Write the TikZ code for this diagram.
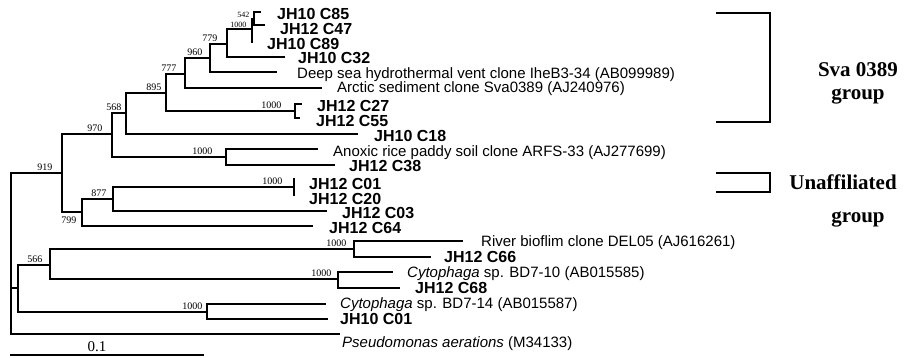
\documentclass[tikz,border=0pt]{standalone}
\usepackage{fontspec}
\setmainfont{Liberation Serif}
\setsansfont{Liberation Sans}
\usepackage{tikz}
\usetikzlibrary{positioning}

\begin{document}
\begin{tikzpicture}[x=1pt, y=-1pt,
  branch/.style={line width=2.5pt},
  bracket/.style={line width=2.6pt},
  boot/.style={inner sep=0.5pt, font=\fontsize{10}{10}\selectfont},
  tinyboot/.style={inner sep=0.5pt, font=\fontsize{8}{8}\selectfont},
  clone/.style={anchor=west, inner sep=0pt, text height=11pt, text depth=0pt, font=\sffamily\bfseries\fontsize{16}{16}\selectfont},
  ref/.style={anchor=west, inner sep=0pt, text height=10.5pt, text depth=0pt, font=\sffamily\fontsize{15}{15}\selectfont},
  grp/.style={inner sep=0pt, font=\bfseries\fontsize{21}{21}\selectfont}
]
\useasboundingbox (0,0) rectangle (910,358);

% inner nodes of the tree
\coordinate (root) at (11,255);
\coordinate (n919) at (62,173);
\coordinate (n970) at (112,134);
\coordinate (n568) at (126,113);
\coordinate (n895) at (166,93);
\coordinate (n777) at (185,74);
\coordinate (n960) at (210,58);
\coordinate (n779) at (227,44);
\coordinate (n1000c) at (252,29);
\coordinate (n542) at (254,19);
\coordinate (n1000b) at (295,111);
\coordinate (n1000a) at (226,157);
\coordinate (n799) at (82,212);
\coordinate (n877) at (113,199);
\coordinate (n1000d) at (294,187);
\coordinate (nlow) at (18,288);
\coordinate (n566) at (50,265);
\coordinate (n1000f) at (354,249);
\coordinate (n1000g) at (338,279);
\coordinate (n1000e) at (207,312);

% leaves
\coordinate (t85) at (261,12);   \node[clone] (l85) at (277,14) {JH10 C85};
\coordinate (t47) at (265,25);   \node[clone] (l47) at (280,29) {JH12 C47};
\coordinate (t89) at (253,42);   \node[clone] (l89) at (267,44) {JH10 C89};
\coordinate (t32) at (285,57);   \node[clone] (l32) at (298,58) {JH10 C32};
\coordinate (tdeep) at (277,72); \node[ref] (ldeep) at (297,73) {Deep sea hydrothermal vent clone IheB3-34 (AB099989)};
\coordinate (tarc) at (322,88);  \node[ref] (larc) at (337,87) {Arctic sediment clone Sva0389 (AJ240976)};
\coordinate (t27) at (302,104);  \node[clone] (l27) at (317,106) {JH12 C27};
\coordinate (t55) at (300,118);  \node[clone] (l55) at (316,121) {JH12 C55};
\coordinate (t18) at (358,134);  \node[clone] (l18) at (374,136) {JH10 C18};
\coordinate (tano) at (318,149); \node[ref] (lano) at (333,151) {Anoxic rice paddy soil clone ARFS-33 (AJ277699)};
\coordinate (t38) at (335,165);  \node[clone] (l38) at (349,166) {JH12 C38};
\coordinate (t01) at (295,179);  \node[clone] (l01) at (309,184) {JH12 C01};
\coordinate (t20) at (295,195);  \node[clone] (l20) at (309,199) {JH12 C20};
\coordinate (t03) at (327,211);  \node[clone] (l03) at (342,213) {JH12 C03};
\coordinate (t64) at (313,226);  \node[clone] (l64) at (329,228) {JH12 C64};
\coordinate (triv) at (463,241); \node[ref] (lriv) at (481,241) {River bioflim clone DEL05 (AJ616261)};
\coordinate (t66) at (431,257);  \node[clone] (l66) at (444,257) {JH12 C66};
\coordinate (tbd10) at (393,272); \node[ref] (lbd10) at (407,272) {\textit{Cytophaga} sp. BD7-10 (AB015585)};
\coordinate (t68) at (400,288);  \node[clone] (l68) at (415,288) {JH12 C68};
\coordinate (tbd14) at (326,304); \node[ref] (lbd14) at (340,303) {\textit{Cytophaga} sp. BD7-14 (AB015587)};
\coordinate (tc01) at (328,319); \node[clone] (lc01) at (340,319) {JH10 C01};
\coordinate (tpse) at (340,334); \node[ref] (lpse) at (342,342) {\textit{Pseudomonas aerations} (M34133)};

% branches
\foreach \a/\b in {root/n919, root/nlow, root/tpse, n919/n970, n919/n799,
  n970/n568, n970/n1000a, n568/n895, n568/t18, n895/n777, n895/n1000b,
  n777/n960, n777/tarc, n960/n779, n960/tdeep, n779/n1000c, n779/t32,
  n1000c/n542, n1000c/t89, n542/t85, n542/t47, n1000b/t27, n1000b/t55,
  n1000a/tano, n1000a/t38, n799/n877, n799/t64, n877/n1000d, n877/t03,
  n1000d/t01, n1000d/t20, nlow/n566, nlow/n1000e, n566/n1000f, n566/n1000g,
  n1000f/triv, n1000f/t66, n1000g/tbd10, n1000g/t68, n1000e/tbd14, n1000e/tc01}
  \draw[branch] (\a) |- (\b);

% bootstrap values
\node[boot, anchor=south east] (b919) at (53,171) {919};
\node[boot, anchor=south east] (b970) at (103,132) {970};
\node[boot, anchor=south east] (b568) at (122,111) {568};
\node[boot, anchor=south east] (b895) at (162,91) {895};
\node[boot, anchor=south east] (b777) at (177,72) {777};
\node[boot, anchor=south east] (b960) at (203,56) {960};
\node[boot, anchor=south east] (b779) at (218,42) {779};
\node[tinyboot, anchor=south east] (b542) at (250,18) {542};
\node[tinyboot, anchor=south east] (b1000c) at (247,28) {1000};
\node[boot, anchor=south east] (b1000b) at (282,109) {1000};
\node[boot, anchor=south east] (b1000a) at (213,155) {1000};
\node[boot, anchor=south east] (b1000d) at (283,185) {1000};
\node[boot, anchor=south east] (b877) at (107,197) {877};
\node[boot, anchor=north east] (b799) at (77,216) {799};
\node[boot, anchor=south east] (b566) at (43,263) {566};
\node[boot, anchor=south east] (b1000f) at (347,247) {1000};
\node[boot, anchor=south east] (b1000g) at (332,277) {1000};
\node[boot, anchor=south east] (b1000e) at (203,310) {1000};

% scale bar
\coordinate (sbl) at (10,355);
\coordinate (sbr) at (204,355);
\draw[line width=1.8pt] (sbl) -- (sbr);
\node[inner sep=0pt, anchor=south, font=\fontsize{15}{15}\selectfont] (sblab) at (97,352) {0.1};

% group brackets
\coordinate (sva1) at (716,13);  \coordinate (sva2) at (770,13);
\coordinate (sva3) at (770,122); \coordinate (sva4) at (716,122);
\draw[bracket] (sva1) -- (sva2) -- (sva3) -- (sva4);
\coordinate (ua1) at (716,173);  \coordinate (ua2) at (770,173);
\coordinate (ua3) at (770,192);  \coordinate (ua4) at (716,192);
\draw[bracket] (ua1) -- (ua2) -- (ua3) -- (ua4);
\node[grp] (sva) at (858,70) {Sva 0389};
\node[grp] (svag) at (858,96) {group};
\node[grp] (unaf) at (843,182) {Unaffiliated};
\node[grp] (unafg) at (858,219) {group};
\end{tikzpicture}
\end{document}
